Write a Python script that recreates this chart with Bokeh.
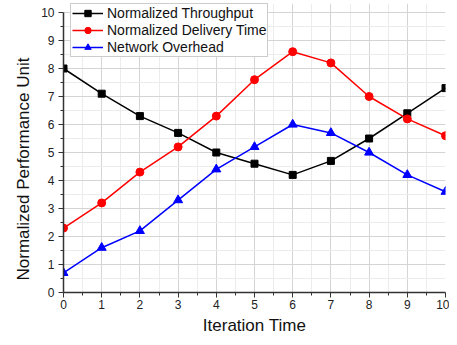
from bokeh.plotting import figure
from bokeh.embed import file_html
from bokeh.resources import INLINE
from bokeh.models import Range1d, FixedTicker, Legend, LegendItem, Title

x = [0, 1, 2, 3, 4, 5, 6, 7, 8, 9, 10]
throughput = [8.0, 7.1, 6.3, 5.7, 5.0, 4.6, 4.2, 4.7, 5.5, 6.4, 7.3]
delivery = [2.3, 3.2, 4.3, 5.2, 6.3, 7.6, 8.6, 8.2, 7.0, 6.2, 5.6]
overhead = [0.7, 1.6, 2.2, 3.3, 4.4, 5.2, 6.0, 5.7, 5.0, 4.2, 3.6]
labels = ["Normalized Throughput", "Normalized Delivery Time", "Network Overhead"]
ticks = list(range(0, 11))
minor = [i + 0.5 for i in range(0, 10)]

# headroom above 10 so the legend (which sits above the top tick) is not clipped
y_top = 289 / 28.0

p = figure(width=449, height=337, output_backend="svg", toolbar_location=None,
           x_range=Range1d(0, 10), y_range=Range1d(0, y_top),
           min_border_left=63, min_border_right=4, min_border_top=3, min_border_bottom=45)
p.outline_line_color = None
p.background_fill_color = "white"

for ax in (p.xaxis[0], p.yaxis[0]):
    ax.ticker = FixedTicker(ticks=ticks, minor_ticks=minor)
    ax.bounds = (0, 10)
    ax.major_label_text_font = "Liberation Sans"
    ax.major_label_text_font_size = "12px"
    ax.major_label_text_color = "#222222"
    ax.axis_label_text_font = "Liberation Sans"
    ax.axis_label_text_font_size = "17px"
    ax.axis_label_text_font_style = "normal"
    ax.axis_label_text_color = "#111111"
    ax.axis_line_color = "#333333"
    ax.axis_line_width = 1.5
    ax.major_tick_line_color = "#333333"
    ax.minor_tick_line_color = "#333333"
    ax.major_tick_in = 0
    ax.major_tick_out = 5
    ax.minor_tick_in = 0
    ax.minor_tick_out = 3

p.xaxis.axis_label = "Iteration Time"
p.xaxis.major_label_standoff = 2
p.yaxis.major_label_standoff = 4
p.xaxis.axis_label_standoff = 4

ylab = Title(text="Normalized Performance Unit", align="left", offset=12,
             text_font="Liberation Sans", text_font_size="17px",
             text_font_style="normal", text_color="#111111", standoff=12)
p.add_layout(ylab, "left")

for g in (p.xgrid[0], p.ygrid[0]):
    g.bounds = (0, 10)
    g.grid_line_color = "#d4d4d4"
    g.minor_grid_line_color = "#ececec"

l1 = p.line(x, throughput, line_color="black", line_width=1.5)
m1 = p.scatter(x, throughput, marker="square", size=7, color="black")
l2 = p.line(x, delivery, line_color="red", line_width=1.5)
m2 = p.scatter(x, delivery, marker="circle", size=8, color="red")
l3 = p.line(x, overhead, line_color="blue", line_width=1.5)
m3 = p.scatter(x, overhead, marker="triangle", size=9, color="blue")

legend = Legend(items=[
    LegendItem(label=labels[0], renderers=[l1, m1]),
    LegendItem(label=labels[1], renderers=[l2, m2]),
    LegendItem(label=labels[2], renderers=[l3, m3]),
], location=(7, 235))
legend.label_text_font = "Liberation Sans"
legend.label_text_font_size = "14px"
legend.label_text_color = "#111111"
legend.border_line_color = "#999999"
legend.border_line_width = 1
legend.glyph_width = 31
legend.glyph_height = 16
legend.label_height = 16
legend.spacing = 1
legend.padding = 1
legend.margin = 0
legend.label_standoff = 4
legend.background_fill_alpha = 1
p.add_layout(legend)

open("out.html", "w").write(file_html(p, INLINE))
